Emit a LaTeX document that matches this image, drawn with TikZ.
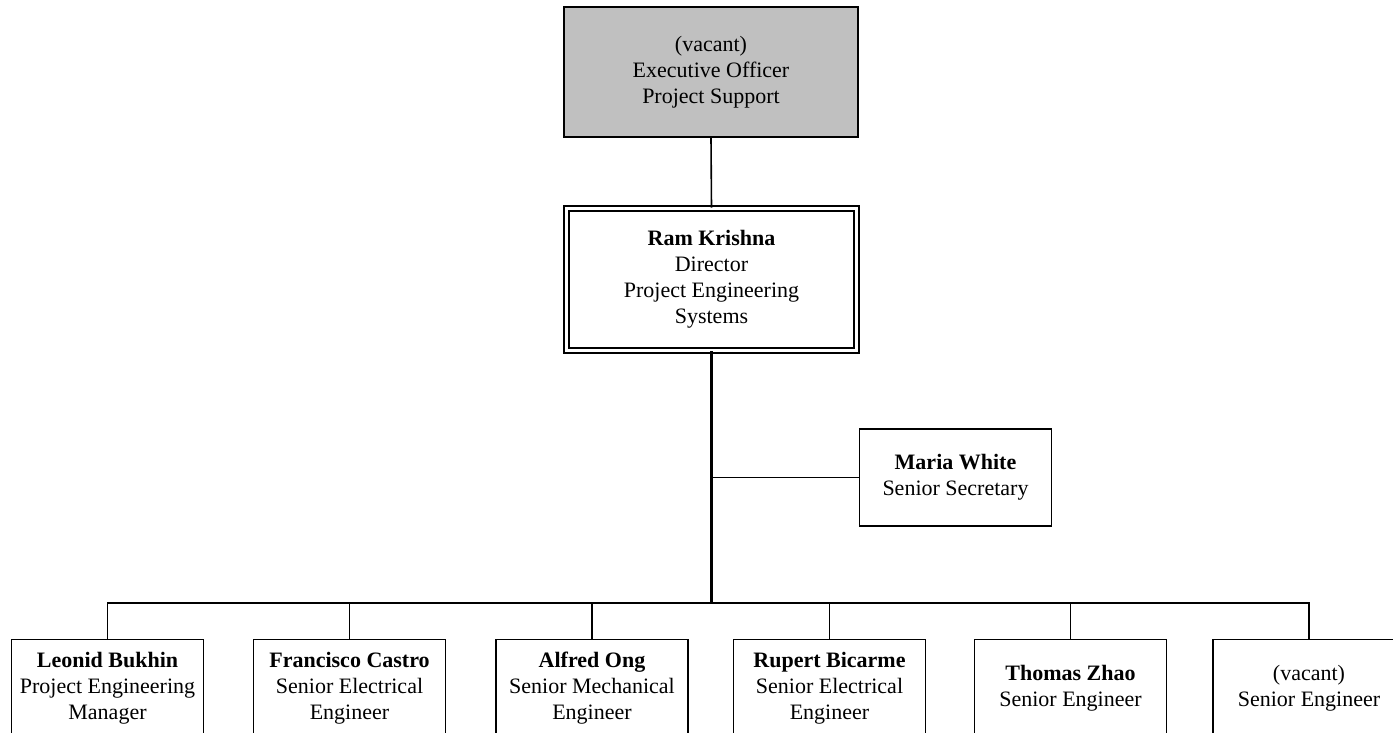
\documentclass[tikz,border=0pt]{standalone}
\usepackage{fontspec}
\setmainfont{Liberation Serif}
\begin{document}
\begin{tikzpicture}[
  x=0.5pt, y=-0.5pt,
  post/.style={draw=black, line width=0.9pt, rectangle, minimum width=96pt, minimum height=48.5pt,
    inner sep=0pt, align=center, font=\fontsize{11}{13}\selectfont},
  head/.style={post, minimum width=145pt, minimum height=71pt, line width=0.8pt,
    double=white, double distance=1.7pt},
  vacant/.style={post, fill={rgb,255:red,192;green,192;blue,192}, minimum width=147pt, minimum height=65pt},
  link/.style={draw=black, line width=0.8pt},
  trunk/.style={draw=black, line width=1.4pt}
]
\useasboundingbox (0,0) rectangle (1393,733);
\clip (0,0) rectangle (1393,733);

\node[vacant] (EO) at (711,72)    {(vacant)\\Executive Officer\\Project Support};
\node[head]   (RK) at (711.5,279.5) {\textbf{Ram Krishna}\\Director\\Project Engineering\\Systems};
\node[post]   (MW) at (955.5,477.5) {\textbf{Maria White}\\Senior Secretary};

\node[post] (LB) at (107.5,688)  {\textbf{Leonid Bukhin}\\Project Engineering\\Manager};
\node[post] (FC) at (349.5,688)  {\textbf{Francisco Castro}\\Senior Electrical\\Engineer};
\node[post] (AO) at (592,688)    {\textbf{Alfred Ong}\\Senior Mechanical\\Engineer};
\node[post] (RB) at (829.5,688)  {\textbf{Rupert Bicarme}\\Senior Electrical\\Engineer};
\node[post] (TZ) at (1070.5,688) {\textbf{Thomas Zhao}\\Senior Engineer};
\node[post] (VS) at (1309,688)   {(vacant)\\Senior Engineer};

\coordinate (bus) at (711.5,603);

\draw[link]  (EO.south) -- (RK.north);
\draw[trunk] (RK.south) -- (bus);
\draw[link]  (MW.west) -- (MW.west -| RK.south);
\foreach \n in {LB,FC,AO,RB,TZ,VS}
  \draw[link] (\n.north) |- (bus);
\end{tikzpicture}
\end{document}
